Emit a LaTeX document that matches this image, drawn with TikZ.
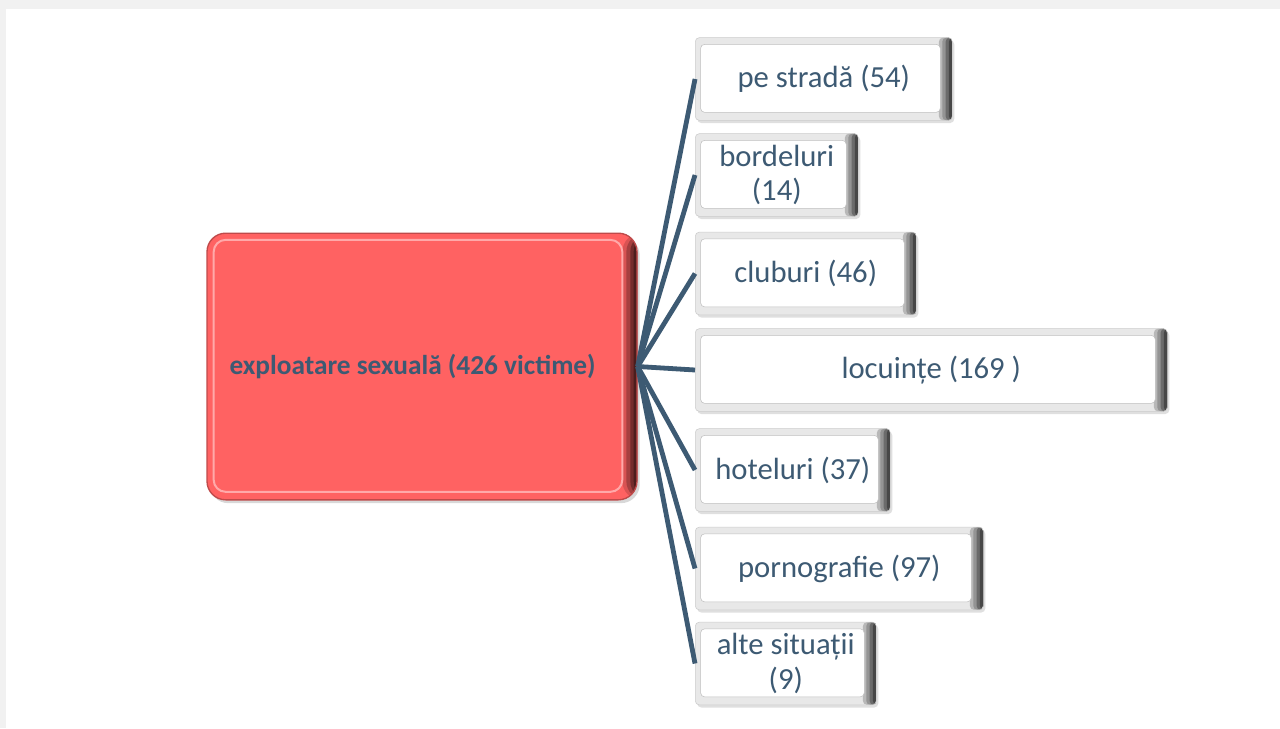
\documentclass[tikz,border=0pt]{standalone}
\usepackage{fontspec}
\setmainfont{Carlito}
\usetikzlibrary{shadows}
\definecolor{slate}{HTML}{3D5A73}
\definecolor{hubred}{HTML}{FF6262}
\definecolor{pagegray}{HTML}{F1F1F1}

\begin{document}
\begin{tikzpicture}
    [
        x=0.75pt,y=-0.75pt,
        hub/.style={rounded corners=14pt,fill=hubred,draw=hubred!75!black,line width=1pt,
            minimum width=322.5pt,minimum height=200pt,inner sep=0pt,
            text=slate,font=\bfseries\fontsize{20.5}{24}\selectfont,
            drop shadow={shadow xshift=2pt,shadow yshift=-2.5pt,opacity=.3},
            path picture={
                \foreach \k/\c in {11/85,8/65,5/45,2.5/30}
                \fill[hubred!\c!black]
                ([xshift=-\k pt]path picture bounding box.north east) rectangle (path picture bounding box.south east);
                \draw[hubred!55!white,line width=1.5pt,rounded corners=9pt]
                ([shift={(5pt,-5pt)}]path picture bounding box.north west) rectangle
                ([shift={(-11pt,6pt)}]path picture bounding box.south east);
            }},
        leaf/.style={anchor=west,rounded corners=3pt,fill=gray!18,draw=gray!40,
            minimum height=62pt,inner sep=1pt,align=center,
            text=slate,font=\fontsize{23}{26}\selectfont,
            drop shadow={shadow xshift=1.5pt,shadow yshift=-2pt,opacity=.25},
            path picture={
                \foreach \k/\c in {10/28,7.5/42,5/58,2.5/72}
                \fill[black!\c]
                ([xshift=-\k pt]path picture bounding box.north east) rectangle (path picture bounding box.south east);
                \filldraw[fill=white,draw=gray!50]
                ([shift={(4pt,-5pt)}]path picture bounding box.north west) rectangle
                ([shift={(-9pt,6pt)}]path picture bounding box.south east);
            }},
        link/.style={line width=3.6pt,slate},
    ]
    % The page
    \fill[pagegray] (0,0) rectangle (1280,728);
    \fill[white] (6,9) rectangle (1280,728);
    \useasboundingbox (0,0) rectangle (1280,728);
    % The main box
    \node[hub] (sexual) at (422,366.5) {exploatare sexuală (426 victime)\hspace*{14pt}};
    % The places
    \foreach \name/\y/\w/\txt in {
        street/79/257/{pe stradă (54)},
        brothel/175/163/{bordeluri\\(14)},
        club/273.5/221/{cluburi (46)},
        home/370/472/{locuințe (169 )},
        hotel/470/195/{hoteluri (37)},
        porn/568.5/288/{pornografie (97)},
        other/663.5/181/{alte situații\\(9)}}
    \node[leaf,minimum width=0.75pt*\w] (\name) at (695,\y) {\txt};
    % The links
    \foreach \name in {street,brothel,club,home,hotel,porn,other}
    \draw[link] (sexual.east) -- (\name.west);
\end{tikzpicture}
\end{document}
